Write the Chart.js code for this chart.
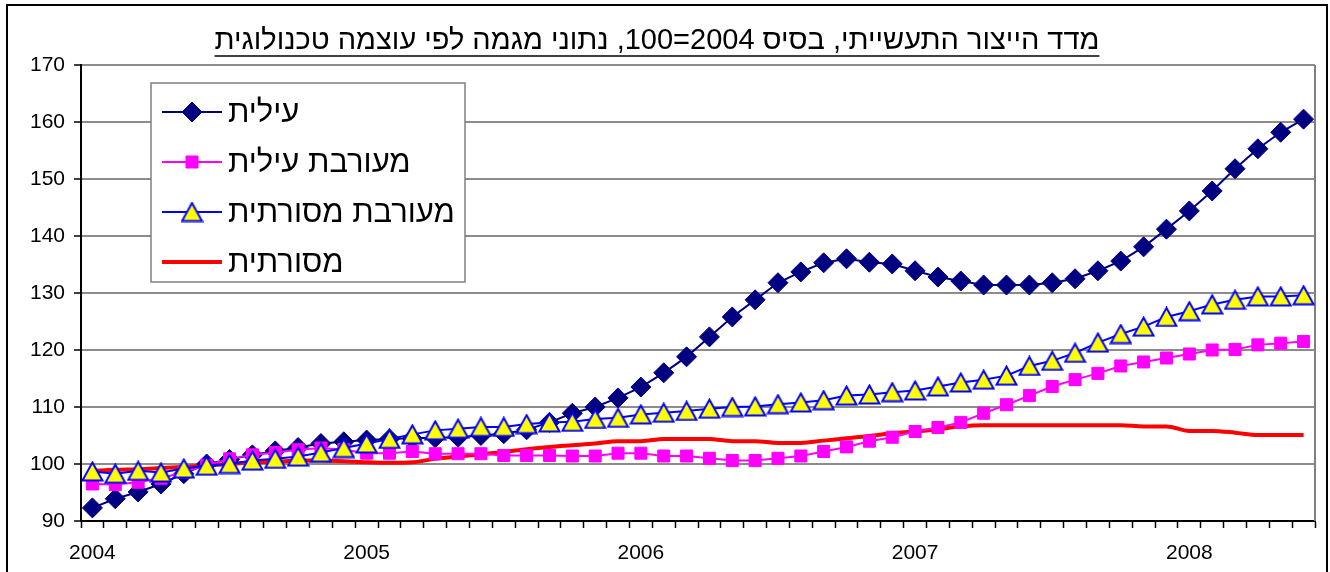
<!DOCTYPE html>
<html>
<head>
<meta charset="utf-8">
<script src="https://cdn.jsdelivr.net/npm/chart.js@4.4.1/dist/chart.umd.min.js"></script>
<style>
  html, body { margin: 0; padding: 0; background: #fff; overflow: hidden; }
  #wrap { position: relative; width: 1330px; height: 572px; }
  #frame { position: absolute; left: 6px; top: 4px; width: 1318px; height: 600px; border: 2px solid #000; pointer-events: none; }
</style>
</head>
<body>
<div id="wrap">
  <canvas id="chart" width="1330" height="572"></canvas>
  <div id="frame"></div>
</div>
<script>
const title = "מדד הייצור התעשייתי, בסיס 2004=100, נתוני מגמה לפי עוצמה טכנולוגית";
const years = ["2004", "2005", "2006", "2007", "2008"];

// monthly, Jan 2004 - Jun 2008
const ilit = [92.3, 93.9, 95.1, 96.5, 98.3, 100.0, 100.8, 101.6, 102.3, 102.9,
  103.6, 103.9, 104.2, 104.4, 104.5, 104.6, 104.7, 105.0, 105.3, 106.0,
  107.3, 108.9, 110.0, 111.6, 113.5, 116.0, 118.8, 122.3, 125.8, 128.8,
  131.8, 133.7, 135.3, 136.0, 135.4, 135.1, 133.9, 132.8, 132.1, 131.4,
  131.4, 131.4, 131.8, 132.5, 133.9, 135.6, 138.1, 141.2, 144.4, 147.9,
  151.8, 155.3, 158.2, 160.5];
const mixedHigh = [96.5, 96.4, 96.8, 97.5, 98.6, 99.8, 100.9, 101.6, 102.0, 102.5,
  102.8, 102.5, 101.9, 101.9, 102.2, 101.8, 101.8, 101.8, 101.5, 101.5,
  101.5, 101.4, 101.4, 101.9, 101.9, 101.4, 101.4, 101.0, 100.6, 100.6,
  101.0, 101.4, 102.2, 103.0, 104.0, 104.7, 105.7, 106.4, 107.3, 108.9,
  110.4, 112.0, 113.6, 114.8, 115.9, 117.2, 117.9, 118.6, 119.3, 120.0,
  120.1, 120.9, 121.2, 121.5];
const mixedTrad = [98.7, 98.3, 98.8, 98.5, 99.2, 99.7, 100.0, 100.6, 100.9, 101.3,
  102.0, 102.8, 103.6, 104.4, 105.2, 105.9, 106.2, 106.5, 106.5, 107.0,
  107.3, 107.4, 107.9, 108.1, 108.7, 109.0, 109.3, 109.7, 110.0, 110.1,
  110.5, 110.8, 111.2, 112.0, 112.2, 112.6, 112.9, 113.6, 114.3, 114.8,
  115.5, 117.2, 118.1, 119.5, 121.3, 122.8, 124.1, 125.8, 126.8, 128.0,
  128.8, 129.4, 129.4, 129.6];
const trad = [98.8, 99.0, 99.1, 99.3, 99.5, 99.7, 100.0, 100.3, 100.4, 100.6,
  100.6, 100.5, 100.3, 100.2, 100.3, 100.9, 101.3, 101.7, 102.1, 102.6,
  103.0, 103.3, 103.6, 104.0, 104.0, 104.4, 104.4, 104.4, 104.0, 104.0,
  103.7, 103.7, 104.1, 104.5, 104.9, 105.4, 105.7, 106.1, 106.6, 106.8,
  106.8, 106.8, 106.8, 106.8, 106.8, 106.8, 106.6, 106.6, 105.8, 105.8,
  105.5, 105.1, 105.1, 105.1];

const labels = ilit.map((_, i) => (i % 12 === 0 ? years[i / 12] : ""));
const FONT = '"Liberation Sans", Arial, sans-serif';

// excel-like triangle marker
function triangleMarker() {
  const c = document.createElement("canvas");
  c.width = 23; c.height = 21;
  const x = c.getContext("2d");
  x.beginPath();
  x.moveTo(11.5, 1.5); x.lineTo(21.5, 19.5); x.lineTo(1.5, 19.5); x.closePath();
  x.fillStyle = "#ffff00"; x.fill();
  x.lineWidth = 2; x.strokeStyle = "#0000ff"; x.lineJoin = "miter"; x.stroke();
  return c;
}
const tri = triangleMarker();

const frame = {
  id: "frame",
  beforeDatasetsDraw(chart) {
    const { ctx, chartArea: a } = chart;
    ctx.save();
    ctx.strokeStyle = "#808080"; ctx.lineWidth = 2;
    ctx.beginPath(); ctx.moveTo(a.right, a.top); ctx.lineTo(a.right, a.bottom); ctx.stroke();
    ctx.restore();
  },
  afterDraw(chart) {
    const { ctx } = chart;
    ctx.save();
    ctx.font = "29px " + FONT;
    ctx.fillStyle = "#000";
    ctx.textAlign = "center";
    ctx.textBaseline = "middle";
    ctx.direction = "rtl";
    const cx = 657, cy = 41;
    ctx.fillText(title, cx, cy);
    const w = ctx.measureText(title).width;
    ctx.strokeStyle = "#000"; ctx.lineWidth = 1.5;
    ctx.beginPath(); ctx.moveTo(cx - w / 2, cy + 15); ctx.lineTo(cx + w / 2, cy + 15); ctx.stroke();
    ctx.restore();
  }
};

const boxLegend = {
  id: "boxLegend",
  afterDatasetsDraw(chart) {
    const { ctx, chartArea: a } = chart;
    const left = a.left + 70, top = a.top + 18, w = 314, h = 199;
    ctx.save();
    ctx.fillStyle = "#fff"; ctx.fillRect(left, top, w, h);
    ctx.strokeStyle = "#808080"; ctx.lineWidth = 1.5; ctx.strokeRect(left, top, w, h);
    chart.data.datasets.forEach((ds, i) => {
      const y = top + 29 + i * 50;
      ctx.strokeStyle = ds.borderColor; ctx.lineWidth = ds.borderWidth;
      ctx.beginPath(); ctx.moveTo(left + 11, y); ctx.lineTo(left + 71, y); ctx.stroke();
      if (ds.pointRadius > 0) {
        ctx.fillStyle = ds.pointBackgroundColor;
        ctx.strokeStyle = ds.pointBorderColor;
        ctx.lineWidth = ds.pointBorderWidth;
        Chart.helpers.drawPoint(ctx, { pointStyle: ds.pointStyle, radius: ds.pointRadius, rotation: 0, borderWidth: ds.pointBorderWidth }, left + 41, y);
      }
      ctx.fillStyle = "#000";
      ctx.font = "31px " + FONT;
      ctx.textAlign = "left"; ctx.textBaseline = "middle";
      ctx.fillText(ds.label, left + 77, y + 1);
    });
    ctx.restore();
  }
};

new Chart(document.getElementById("chart"), {
  type: "line",
  data: {
    labels,
    datasets: [
      { label: "עילית", data: ilit, borderColor: "#000080", borderWidth: 2,
        pointStyle: "rectRot", pointRadius: 10, pointBackgroundColor: "#000080", pointBorderColor: "#000080", pointBorderWidth: 1, order: 3 },
      { label: "מעורבת עילית", data: mixedHigh, borderColor: "#ff00ff", borderWidth: 2,
        pointStyle: "rect", pointRadius: 8.5, pointBackgroundColor: "#ff00ff", pointBorderColor: "#ff00ff", pointBorderWidth: 1, order: 2 },
      { label: "מעורבת מסורתית", data: mixedTrad, borderColor: "#0000ff", borderWidth: 2,
        pointStyle: tri, pointRadius: 10, pointBackgroundColor: "#ffff00", pointBorderColor: "#0000ff", pointBorderWidth: 2, order: 1 },
      { label: "מסורתית", data: trad, borderColor: "#ff0000", borderWidth: 4,
        pointRadius: 0, cubicInterpolationMode: "monotone", order: 4 },
    ],
  },
  options: {
    responsive: false,
    animation: false,
    events: [],
    layout: { autoPadding: false, padding: { top: 65, right: 15, bottom: 0, left: 0 } },
    plugins: { legend: { display: false }, tooltip: { enabled: false } },
    scales: {
      x: {
        offset: true,
        afterFit: (s) => { s.height = 51; },
        grid: { offset: true, drawOnChartArea: false, tickLength: 7, tickColor: "#000", tickWidth: 1.5 },
        border: { color: "#000", width: 2 },
        ticks: { autoSkip: false, maxRotation: 0, padding: 13, color: "#000", font: { family: FONT, size: 21 } },
      },
      y: {
        min: 90, max: 170,
        afterFit: (s) => { s.width = 81; },
        grid: { color: "#8c8c8c", lineWidth: 2, tickLength: 7, tickColor: "#000", tickWidth: 1.5 },
        border: { color: "#000", width: 2 },
        ticks: { stepSize: 10, padding: 9, color: "#000", font: { family: FONT, size: 21 } },
      },
    },
  },
  plugins: [frame, boxLegend],
});
</script>
</body>
</html>
